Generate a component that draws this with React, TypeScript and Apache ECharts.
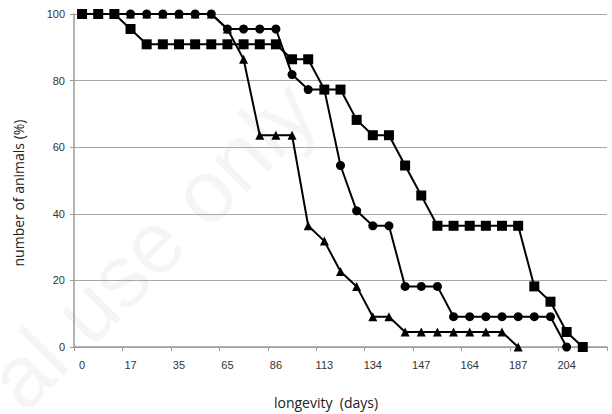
import React, { useEffect, useRef } from "react";
import * as echarts from "echarts";

const categories = [
  "0", "6", "11", "17", "23", "29", "35", "45", "55", "65", "72",
  "79", "86", "95", "104", "113", "120", "127", "134", "138", "143",
  "147", "153", "158", "164", "172", "180", "187", "193", "199", "204",
  "208", "212",
];

const squares = [
  100, 100, 100, 95.5, 90.9, 90.9, 90.9, 90.9, 90.9, 90.9, 90.9, 90.9, 90.9,
  86.4, 86.4, 77.3, 77.3, 68.2, 63.6, 63.6, 54.5, 45.5, 36.4, 36.4, 36.4,
  36.4, 36.4, 36.4, 18.2, 13.6, 4.5, 0,
];

const circles = [
  100, 100, 100, 100, 100, 100, 100, 100, 100, 95.5, 95.5, 95.5, 95.5, 81.8,
  77.3, 77.3, 54.5, 40.9, 36.4, 36.4, 18.2, 18.2, 18.2, 9.1, 9.1, 9.1, 9.1,
  9.1, 9.1, 9.1, 0,
];

const triangles = [
  100, 100, 100, 100, 100, 100, 100, 100, 100, 95.5, 86.4, 63.6, 63.6, 63.6,
  36.4, 31.8, 22.7, 18.2, 9.1, 9.1, 4.5, 4.5, 4.5, 4.5, 4.5, 4.5, 4.5, 0,
];

const yTicks = { min: 0, max: 100, interval: 20 };
const xTitle = "longevity  (days)";
const yTitle = "number of animals (%)";

export default function App() {
  const ref = useRef<HTMLDivElement>(null);
  useEffect(() => {
    if (!ref.current) return;
    const chart = echarts.init(ref.current, null, { renderer: "svg" });
    const lineStyle = { color: "#000", width: 2 };
    const mk = (name: string, data: number[], symbol: string, size: number, z: number) => ({
      name,
      type: "line",
      data,
      symbol,
      symbolSize: size,
      showAllSymbol: true,
      lineStyle,
      itemStyle: { color: "#000" },
      z,
    });
    chart.setOption({
      animation: false,
      backgroundColor: "#fff",
      grid: { left: 74, right: 5, top: 14, bottom: 67, containLabel: false },
      graphic: [
        {
          type: "text",
          x: -28,
          y: 362,
          rotation: Math.PI / 4,
          silent: true,
          z: -10,
          style: {
            text: "al use only",
            fontSize: 88,
            fontFamily: "Liberation Sans",
            fill: "rgba(0,0,0,0.04)",
          },
        },
        {
          type: "text",
          x: 326,
          y: 402,
          silent: true,
          style: {
            text: xTitle,
            fontSize: 14,
            fontFamily: "Open Sans",
            fill: "#222",
            align: "center",
            verticalAlign: "middle",
          },
        },
        {
          type: "text",
          x: 18,
          y: 193,
          rotation: Math.PI / 2,
          silent: true,
          style: {
            text: yTitle,
            fontSize: 14,
            fontFamily: "Open Sans",
            fill: "#222",
            align: "center",
            verticalAlign: "middle",
          },
        },
      ],
      xAxis: {
        type: "category",
        data: categories,
        boundaryGap: true,
        axisLine: { lineStyle: { color: "#9a9a9a", width: 1.5 } },
        axisTick: { show: true, interval: 2, length: 4, lineStyle: { color: "#9a9a9a" } },
        axisLabel: {
          interval: 2,
          margin: 12,
          fontFamily: "Liberation Sans",
          fontSize: 11,
          color: "#333",
        },
        splitLine: { show: false },
      },
      yAxis: {
        type: "value",
        min: yTicks.min,
        max: yTicks.max,
        interval: yTicks.interval,
        axisLine: { show: true, lineStyle: { color: "#9a9a9a", width: 1.5 } },
        axisTick: { show: true, length: 4, lineStyle: { color: "#9a9a9a" } },
        axisLabel: { margin: 9, fontFamily: "Liberation Sans", fontSize: 11, color: "#333" },
        splitLine: { show: true, lineStyle: { color: "#a8a8a8", width: 1.2 } },
      },
      series: [
        mk("triangles", triangles, "triangle", 9, 2),
        mk("circles", circles, "circle", 9, 3),
        mk("squares", squares, "rect", 10, 4),
      ],
    });
    return () => chart.dispose();
  }, []);
  return (
    <div
      ref={ref}
      style={{ position: "fixed", left: 0, top: 0, width: 612, height: 414, overflow: "hidden" }}
    />
  );
}
